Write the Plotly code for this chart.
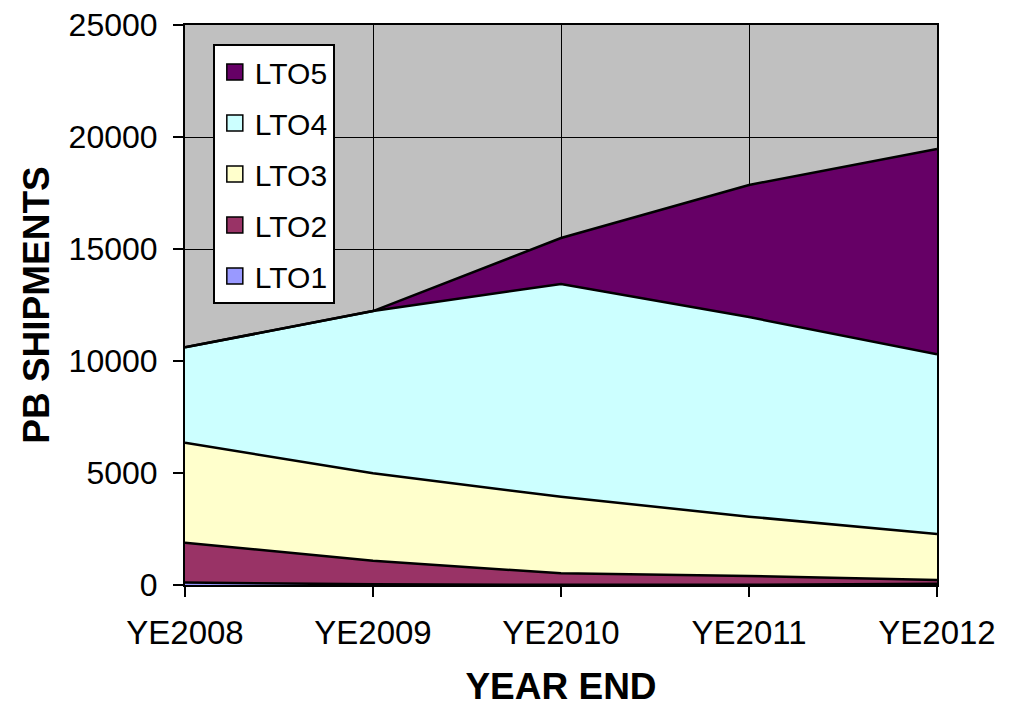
import plotly.graph_objects as go

categories = ["YE2008", "YE2009", "YE2010", "YE2011", "YE2012"]
lto1 = [110, 30, 10, 10, 60]
lto2 = [1780, 1055, 510, 390, 160]
lto3 = [4460, 3900, 3420, 2650, 2060]
lto4 = [4260, 7245, 9500, 8910, 8020]
lto5 = [0, 0, 2050, 5900, 9160]
y_ticks = [0, 5000, 10000, 15000, 20000, 25000]
y_ticktext = ["0", "5000", "10000", "15000", "20000", "25000"]

series = [
    ("LTO1", lto1, "#9999FF"),
    ("LTO2", lto2, "#993366"),
    ("LTO3", lto3, "#FFFFCC"),
    ("LTO4", lto4, "#CCFFFF"),
    ("LTO5", lto5, "#660066"),
]

fig = go.Figure()
for name, vals, col in series:
    fig.add_trace(go.Scatter(
        x=categories, y=vals, name=name, stackgroup="one", mode="lines",
        line=dict(color="black", width=2.5), fillcolor=col, showlegend=False,
        hoverinfo="x+y+name",
    ))
# legend entries, top to bottom: LTO5 ... LTO1
for name, vals, col in reversed(series):
    fig.add_trace(go.Scatter(
        x=[None], y=[None], name=name, mode="markers", legendgroup=name,
        marker=dict(symbol="square", size=17, color=col, line=dict(color="black", width=1.5)),
    ))

# page body has an 8px margin, so the figure is sized to fit the window
fig.update_layout(
    width=1005, height=699,
    margin=dict(l=177, r=76, t=17, b=122),
    paper_bgcolor="white", plot_bgcolor="#C0C0C0",
    font=dict(family="Liberation Sans, Arial, sans-serif", color="black", size=30),
    legend=dict(
        x=0.037, y=0.966, xanchor="left", yanchor="top",
        bgcolor="white", bordercolor="black", borderwidth=2,
        traceorder="grouped", tracegroupgap=9,
        font=dict(size=30), itemwidth=30,
    ),
    showlegend=True,
)
fig.update_xaxes(
    type="category", range=[0, 4], showgrid=True, gridcolor="black", gridwidth=1,
    showline=True, linecolor="black", linewidth=2, mirror=True, automargin=False,
    ticks="outside", ticklen=10, tickcolor="black", tickwidth=2,
    tickfont=dict(size=33), ticklabelstandoff=7, ticklabeloverflow="allow",
    title=dict(text="<b>YEAR END</b>", font=dict(size=37), standoff=33),
)
fig.update_yaxes(
    range=[0, 25000], tickvals=y_ticks, ticktext=y_ticktext,
    showgrid=True, gridcolor="black", gridwidth=1,
    showline=True, linecolor="black", linewidth=2, mirror=True, zeroline=False, automargin=False,
    ticks="outside", ticklen=10, tickcolor="black", tickwidth=2,
    tickfont=dict(size=32), ticklabelstandoff=9, ticklabeloverflow="allow",
    title=dict(text="<b>PB SHIPMENTS</b>", font=dict(size=37), standoff=8),
)

fig.write_html("out.html")
